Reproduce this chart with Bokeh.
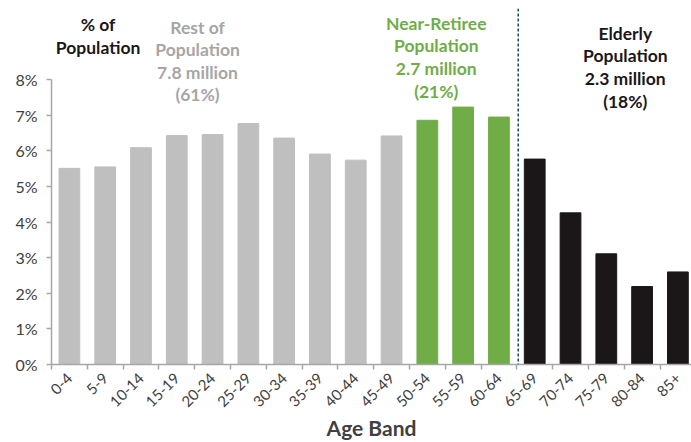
from bokeh.plotting import figure
from bokeh.models import ColumnDataSource, Span, FixedTicker, LinearAxis, Range1d
from bokeh.core.properties import value
from bokeh.embed import file_html
from bokeh.resources import INLINE

# Share of total population by age band (percent)
age_bands = ["0-4", "5-9", "10-14", "15-19", "20-24", "25-29", "30-34", "35-39",
             "40-44", "45-49", "50-54", "55-59", "60-64", "65-69", "70-74",
             "75-79", "80-84", "85+"]
share_pct = [5.51, 5.55, 6.09, 6.43, 6.46, 6.77, 6.36, 5.91, 5.74, 6.42,
             6.86, 7.23, 6.95, 5.77, 4.26, 3.11, 2.19, 2.60]
group = ["rest"] * 10 + ["near"] * 3 + ["elderly"] * 5
y_ticks = [0, 1, 2, 3, 4, 5, 6, 7, 8]

GROUP_COLORS = {"rest": "#BFBFBF", "near": "#70AD47", "elderly": "#1B1719"}
FONT = "Lato"

centers = [i + 0.5 for i in range(len(age_bands))]
source = ColumnDataSource(dict(
    x=centers,
    top=[v / 100 for v in share_pct],
    color=[GROUP_COLORS[g] for g in group],
))

p = figure(width=691, height=442, output_backend="svg", toolbar_location=None,
           x_range=Range1d(0, 17.88), y_range=Range1d(0, 0.10),
           min_border_left=51, min_border_right=0, min_border_top=8,
           min_border_bottom=77, x_axis_type=None, y_axis_type=None)
p.outline_line_color = None
p.grid.visible = False
p.background_fill_color = "white"
p.border_fill_color = "white"

p.vbar(x="x", top="top", width=0.58, color="color", source=source)

# Category axis: ticks on the boundaries, labels under each bar
xaxis = LinearAxis(
    ticker=FixedTicker(ticks=centers, minor_ticks=list(range(len(age_bands) + 1))),
    major_label_overrides={c: b for c, b in zip(centers, age_bands)},
    major_label_orientation=0.785398,
    axis_label="Age Band",
)
xaxis.major_tick_line_color = None
xaxis.minor_tick_out = 5
xaxis.minor_tick_in = 0
xaxis.minor_tick_line_color = "#A6A6A6"
xaxis.minor_tick_line_width = 1.5
xaxis.axis_line_color = "#A6A6A6"
xaxis.axis_line_width = 1.5
xaxis.major_label_text_font = FONT
xaxis.major_label_text_font_size = "15px"
xaxis.major_label_text_color = "#404040"
xaxis.major_label_standoff = 5
xaxis.axis_label_text_font = FONT
xaxis.axis_label_text_font_size = "21px"
xaxis.axis_label_text_font_style = "bold"
xaxis.axis_label_text_color = "#404040"
xaxis.axis_label_standoff = 0
p.add_layout(xaxis, "below")

yaxis = LinearAxis(
    ticker=FixedTicker(ticks=[t / 100 for t in y_ticks]),
    major_label_overrides={t / 100: f"{t}%" for t in y_ticks},
    bounds=(0, y_ticks[-1] / 100),
)
yaxis.minor_tick_line_color = None
yaxis.major_tick_out = 5
yaxis.major_tick_in = 0
yaxis.major_tick_line_color = "#A6A6A6"
yaxis.major_tick_line_width = 1.5
yaxis.axis_line_color = "#A6A6A6"
yaxis.axis_line_width = 1.5
yaxis.major_label_text_font = FONT
yaxis.major_label_text_font_size = "16px"
yaxis.major_label_text_color = "#404040"
yaxis.major_label_standoff = 9
p.add_layout(yaxis, "left")

# Divider between working-age and elderly bands
p.add_layout(Span(location=13.04, dimension="height", line_color="#1F4E5F",
                  line_width=1.6, line_dash="3 2"))

# Group captions
captions = [
    ("% of\nPopulation", 1.30, 0.0955, "#1B1719"),
    ("Rest of\nPopulation\n7.8 million\n(61%)", 4.08, 0.0947, "#A6A6A6"),
    ("Near-Retiree\nPopulation\n2.7 million\n(21%)", 10.75, 0.0958, "#70AD47"),
    ("Elderly\nPopulation\n2.3 million\n(18%)", 16.03, 0.0930, "#1B1719"),
]
LINE_STEP = 0.00633
for txt, cx, cy, col in captions:
    lines = txt.split("\n")
    p.text(x=[cx] * len(lines), y=[cy - i * LINE_STEP for i in range(len(lines))],
           text=lines, text_align="center", text_baseline="middle",
           text_font=value(FONT), text_font_size="17.5px", text_font_style="bold",
           text_color=col)

open("out.html", "w").write(file_html(p, INLINE))
